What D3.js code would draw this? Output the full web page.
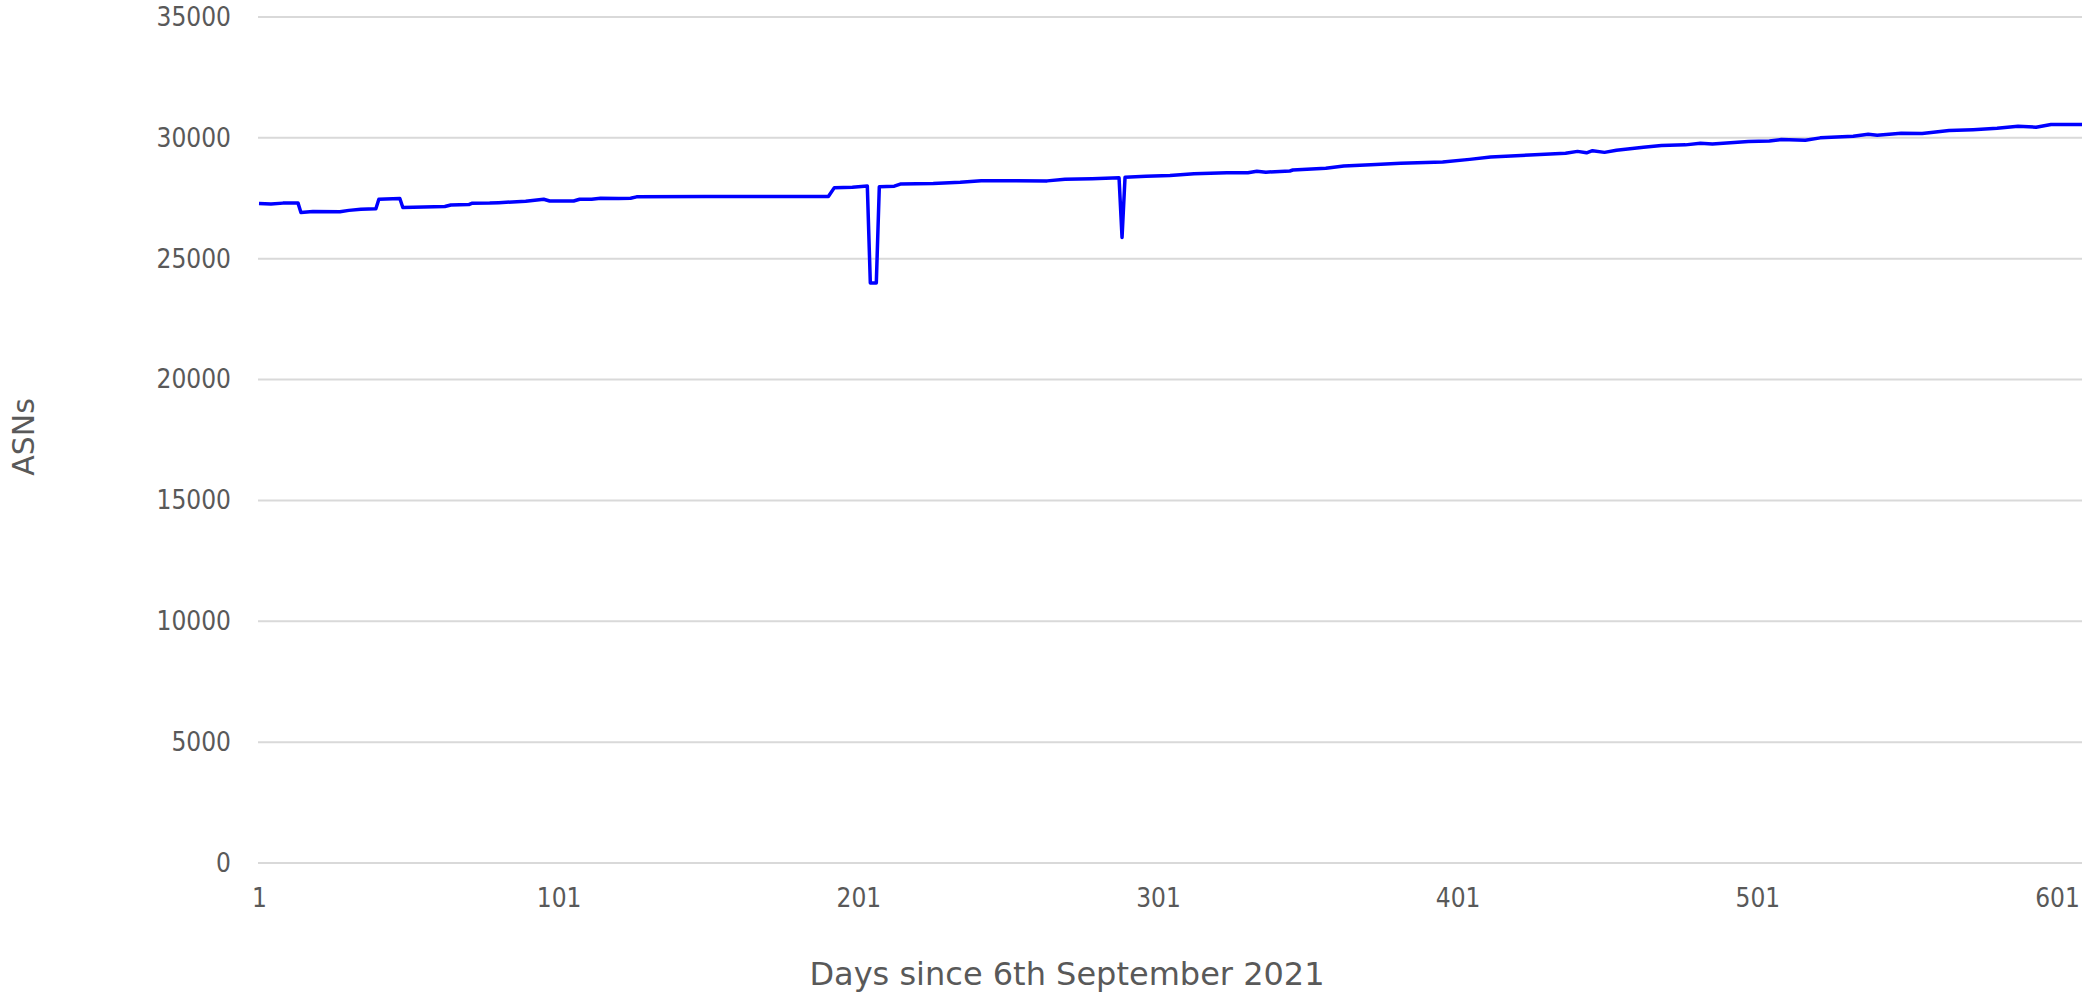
<!DOCTYPE html>
<html>
<head>
<meta charset="utf-8">
<script src="https://cdn.jsdelivr.net/npm/d3@7"></script>
<style>
  html, body { margin: 0; padding: 0; background: #ffffff; overflow: hidden; }
  svg { display: block; }
  text { fill: #595959; }
</style>
</head>
<body>
<svg id="chart" width="2082" height="995"></svg>
<script>
// ---- data ----
const days = [1, 5, 9, 14, 15, 19, 28, 31, 35, 40, 41, 48, 49, 56, 63, 65, 71, 72, 78, 81, 90, 96, 98, 106, 108, 112, 115, 121, 125, 127, 150, 170, 191, 193, 199, 204, 205, 207, 208, 213, 215, 226, 235, 242, 252, 264, 270, 279, 288, 289, 290, 297, 305, 313, 324, 331, 334, 337, 345, 346, 357, 363, 372, 382, 396, 405, 412, 425, 437, 441, 444, 446, 450, 454, 463, 469, 477, 482, 486, 492, 498, 505, 509, 517, 522, 533, 538, 541, 549, 556, 565, 573, 581, 588, 594, 599, 611];
const asns = [27280, 27260, 27300, 27310, 26910, 26950, 26940, 27000, 27050, 27070, 27460, 27490, 27120, 27140, 27160, 27220, 27240, 27290, 27300, 27320, 27380, 27460, 27390, 27390, 27460, 27460, 27500, 27490, 27500, 27560, 27570, 27570, 27570, 27940, 27960, 28010, 24000, 24000, 27980, 28000, 28090, 28110, 28160, 28230, 28230, 28220, 28290, 28310, 28350, 25880, 28370, 28410, 28440, 28520, 28560, 28560, 28620, 28580, 28630, 28670, 28740, 28840, 28890, 28950, 29000, 29110, 29210, 29290, 29360, 29440, 29380, 29470, 29400, 29490, 29610, 29680, 29710, 29780, 29750, 29800, 29850, 29870, 29930, 29900, 30000, 30070, 30150, 30110, 30190, 30180, 30300, 30340, 30400, 30480, 30440, 30550, 30550];
const yTicks = [0, 5000, 10000, 15000, 20000, 25000, 30000, 35000];
const xTicks = [1, 101, 201, 301, 401, 501, 601];
const xTitle = "Days since 6th September 2021";
const yTitle = "ASNs";

// ---- layout ----
const svg = d3.select("#chart");
const plotLeft = 258, plotRight = 2082, plotTop = 17, plotBottom = 863;
const tickFont = '"DejaVu Sans Condensed", "DejaVu Sans", sans-serif';
const titleFont = '"DejaVu Sans", sans-serif';

const x = d3.scaleLinear().domain([1, 601]).range([259, 2057]);
const y = d3.scaleLinear().domain([0, 35000]).range([plotBottom, plotTop]);

// gridlines
svg.append("g").selectAll("line").data(yTicks).join("line")
  .attr("x1", plotLeft).attr("x2", plotRight)
  .attr("y1", d => y(d)).attr("y2", d => y(d))
  .attr("stroke", "#d9d9d9").attr("stroke-width", 2);

// y labels
const yAxis = d3.axisLeft(y).tickValues(yTicks).tickSize(0).tickPadding(27).tickFormat(d3.format("d"));
const gy = svg.append("g").attr("transform", `translate(${plotLeft},0)`).call(yAxis);
gy.select(".domain").remove();
gy.selectAll("text").attr("font-size", 26).attr("fill", "#595959").style("font-family", tickFont);

// x labels
const xAxis = d3.axisBottom(x).tickValues(xTicks).tickSize(0).tickPadding(26).tickFormat(d3.format("d"));
const gx = svg.append("g").attr("transform", `translate(0,${plotBottom})`).call(xAxis);
gx.select(".domain").remove();
gx.selectAll("text").attr("font-size", 26).attr("fill", "#595959").style("font-family", tickFont);

// line
const line = d3.line().x((d, i) => x(days[i])).y((d, i) => y(asns[i]));
svg.append("path").datum(asns).attr("d", line)
  .attr("fill", "none").attr("stroke", "#0000ff").attr("stroke-width", 3.5)
  .attr("stroke-linejoin", "round");

// titles
svg.append("text").attr("x", 1067).attr("y", 985).attr("text-anchor", "middle")
  .style("font-family", titleFont).attr("font-size", 32).text(xTitle);
svg.append("text").attr("transform", "translate(34,437) rotate(-90)").attr("text-anchor", "middle")
  .style("font-family", titleFont).attr("font-size", 30).text(yTitle);
</script>
</body>
</html>
